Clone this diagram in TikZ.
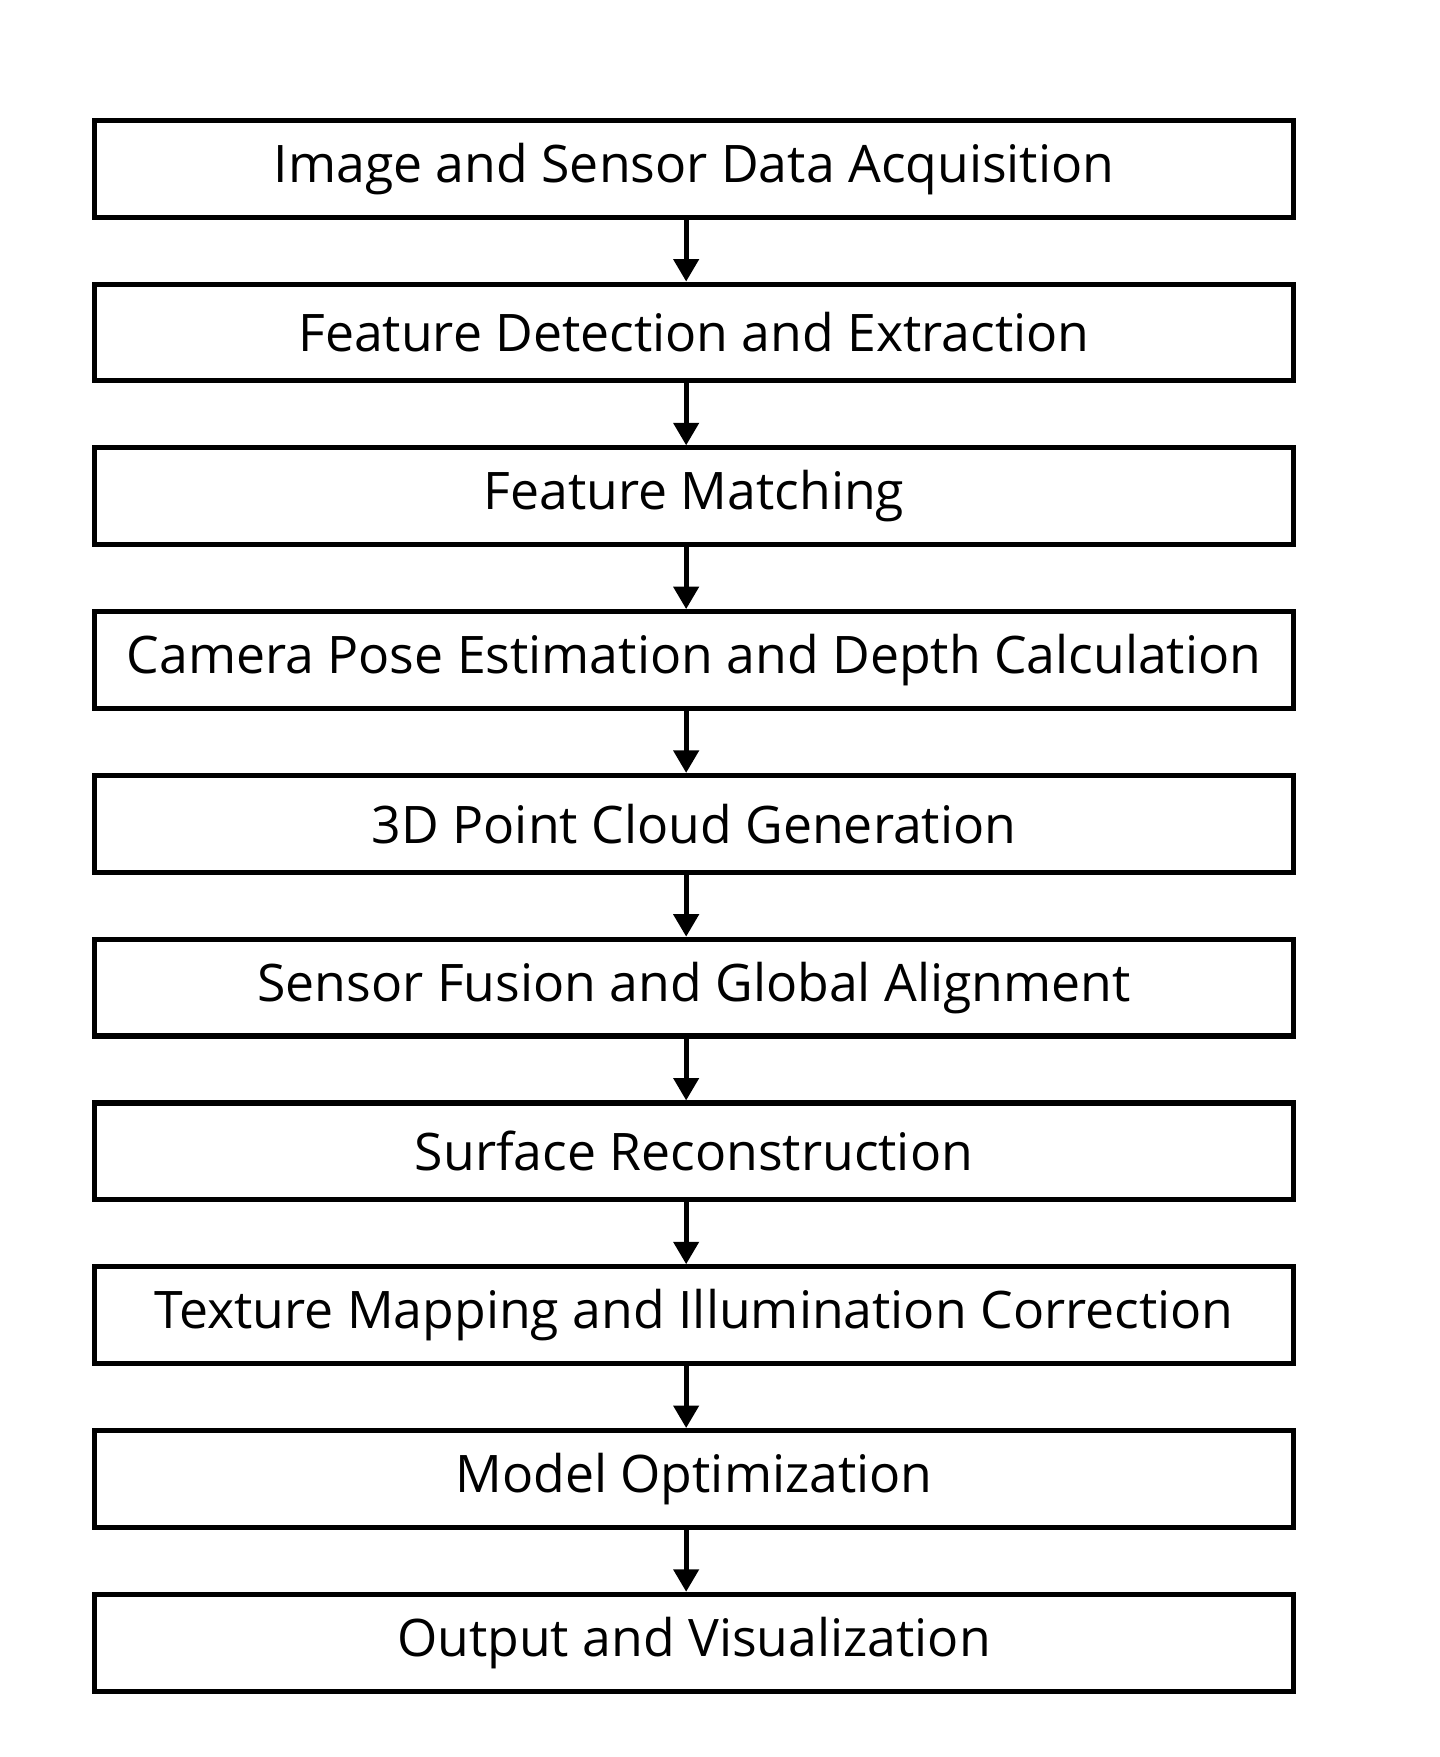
\documentclass[tikz,border=0pt]{standalone}
\usepackage{fontspec}
\setmainfont{Open Sans}
\usetikzlibrary{arrows.meta}
\begin{document}
\begin{tikzpicture}[x=1pt,y=-1pt]
\tikzstyle{stage}=[draw=black,line width=4.5pt,minimum width=1066pt,minimum height=86pt,inner sep=0pt,font=\fontsize{46}{50}\selectfont]
\tikzstyle{flow}=[line width=4.5pt,-{Triangle[length=20pt,width=22pt]}]
\useasboundingbox (0,0) rectangle (1280,1562);
\foreach \i/\t in {1/Image and Sensor Data Acquisition,
2/Feature Detection and Extraction,
3/Feature Matching,
4/Camera Pose Estimation and Depth Calculation,
5/3D Point Cloud Generation,
6/Sensor Fusion and Global Alignment,
7/Surface Reconstruction,
8/Texture Mapping and Illumination Correction,
9/Model Optimization,
10/Output and Visualization}
  \node[stage] (s\i) at (617,{150+145.6*(\i-1)}) {\t};
\foreach \i [evaluate=\i as \j using int(\i+1)] in {1,...,9}
  \draw[flow] (s\i.south -| 610,0) -- (s\j.north -| 610,0);
\end{tikzpicture}
\end{document}
